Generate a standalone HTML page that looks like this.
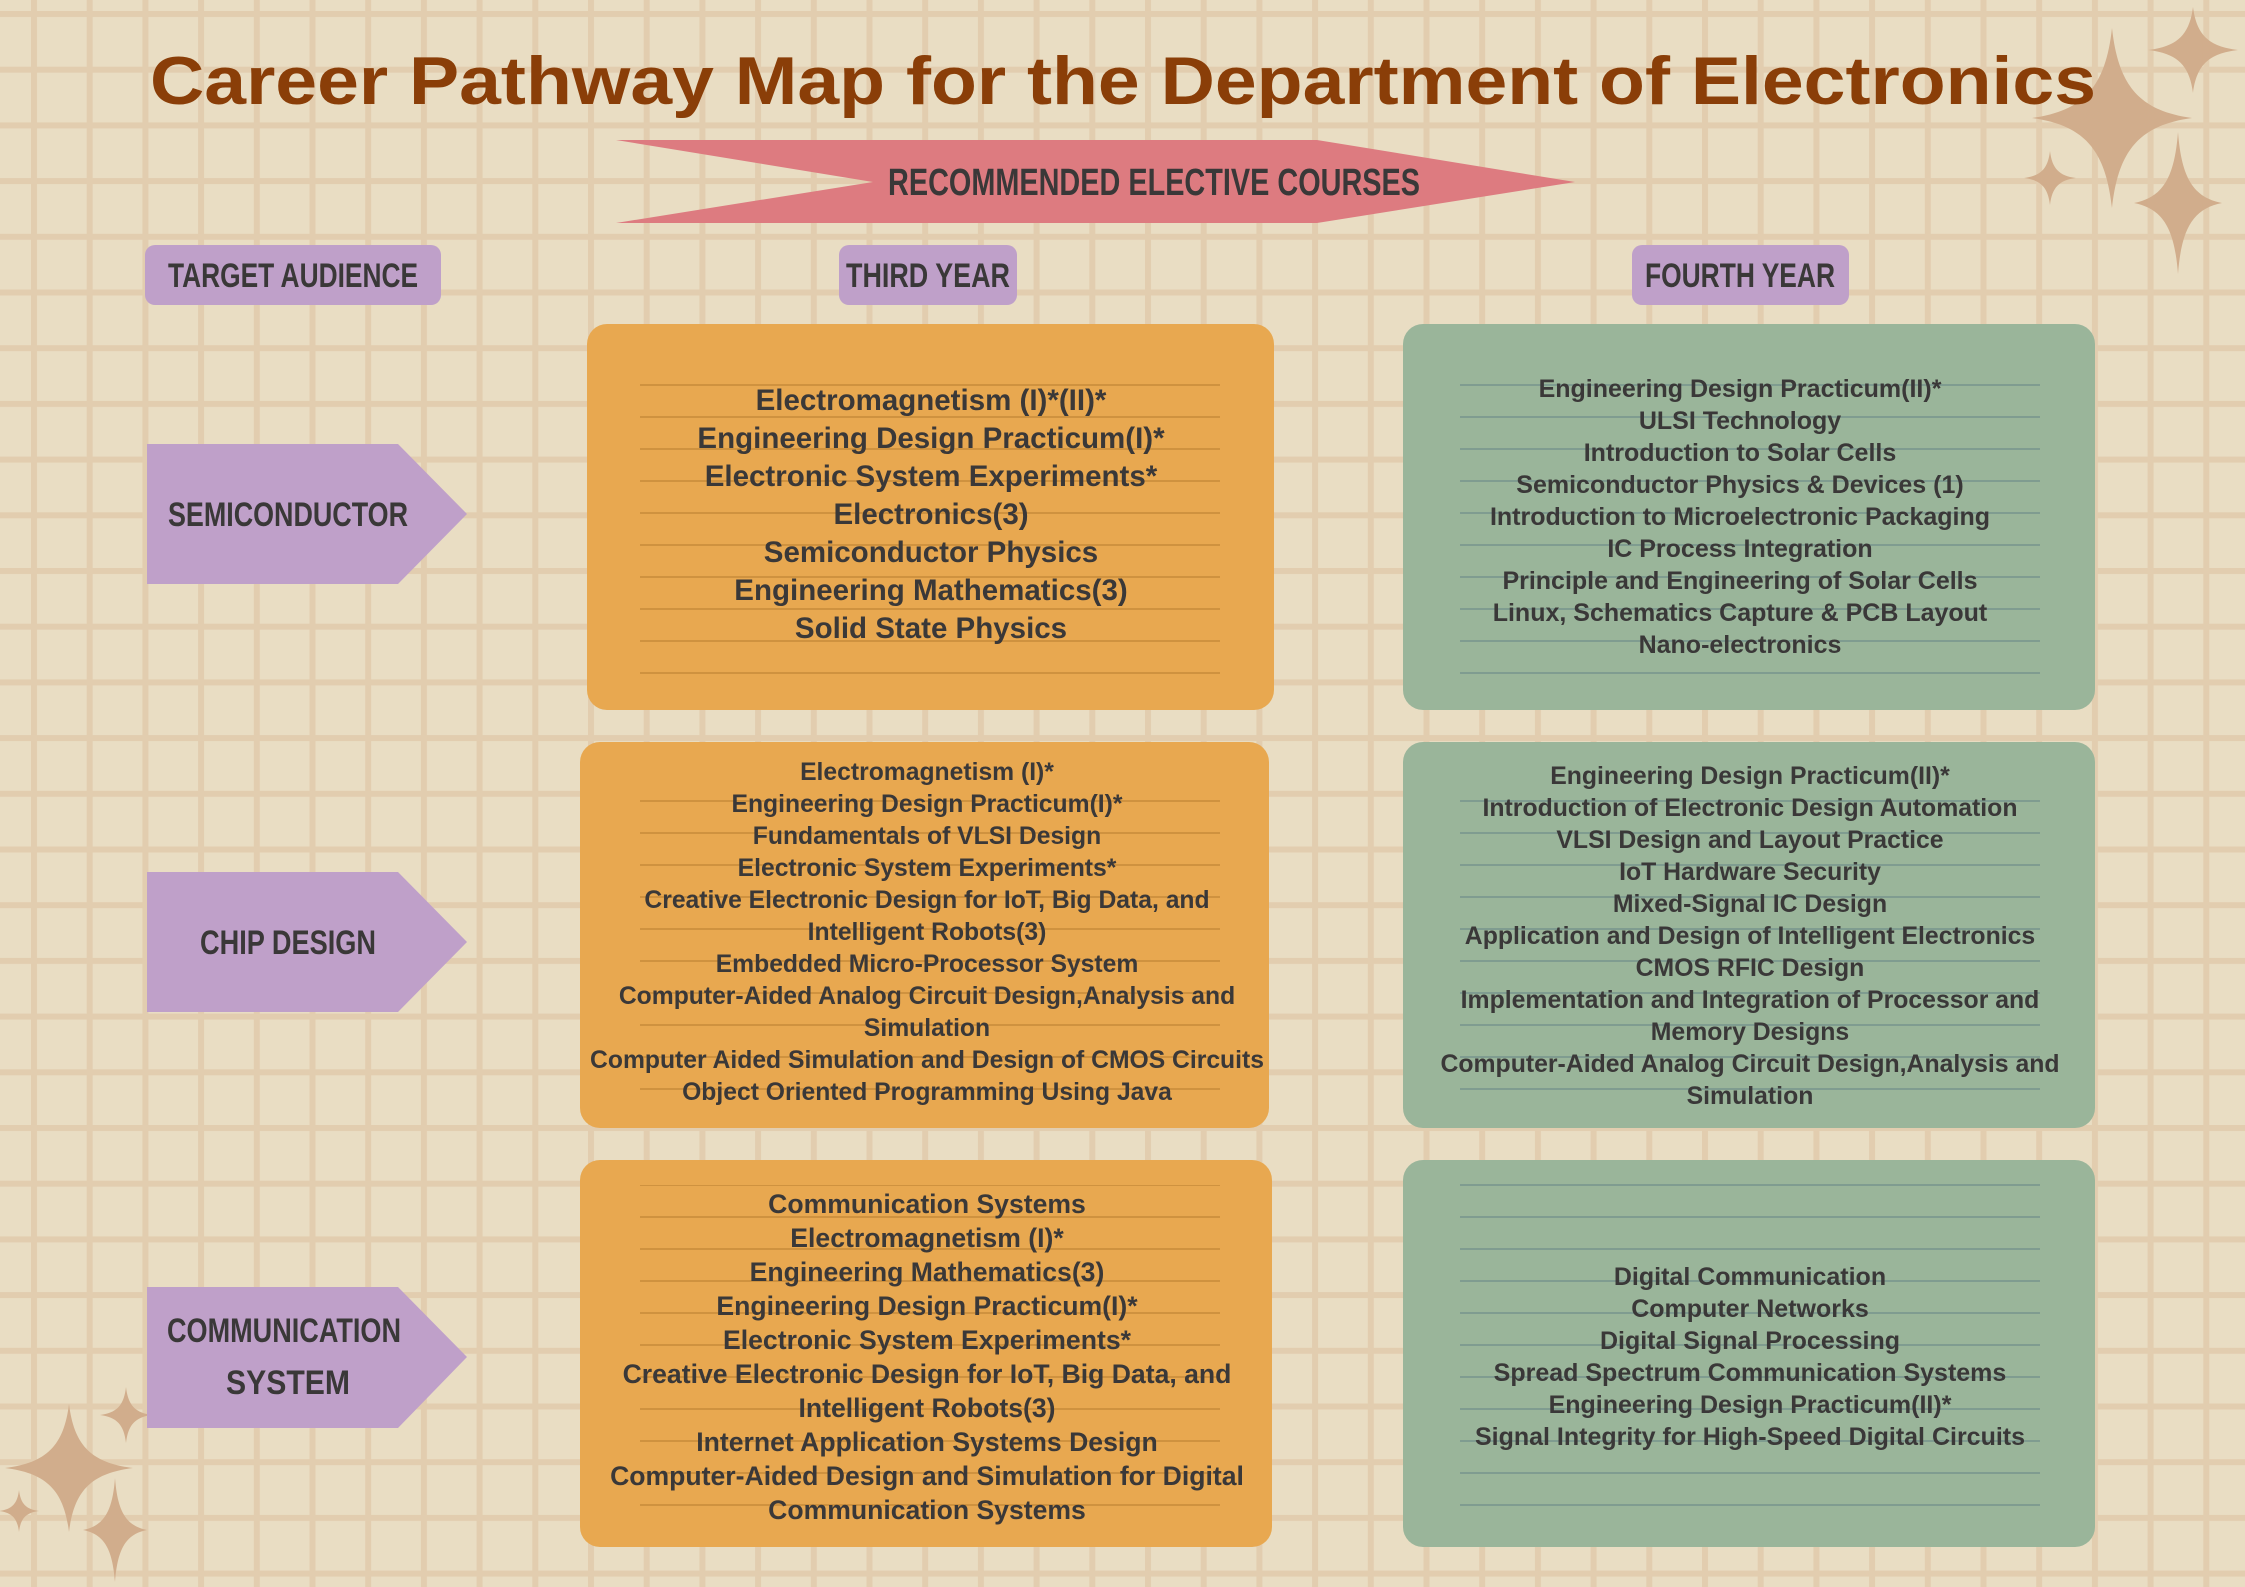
<!DOCTYPE html>
<html><head><meta charset="utf-8"><style>
html,body{margin:0;padding:0;}
body{width:2245px;height:1587px;overflow:hidden;background:#e9ddc3;}
svg{display:block}
.b{font-family:"Liberation Sans",sans-serif;font-weight:bold;fill:#3a3838;text-anchor:middle}
</style></head><body>
<svg width="2245" height="1587" viewBox="0 0 2245 1587" xmlns="http://www.w3.org/2000/svg">
<defs>
<pattern id="grid" x="31" y="11" width="55.7" height="55.7" patternUnits="userSpaceOnUse">
<rect x="0" y="0" width="6" height="55.7" fill="#e2cdaf"/>
<rect x="0" y="0" width="55.7" height="6" fill="#e2cdaf"/>
</pattern>
<pattern id="lo" x="0" y="0" width="10" height="32" patternUnits="userSpaceOnUse"><rect y="0" width="10" height="2" fill="#cf923f"/></pattern>
<pattern id="lg" x="0" y="0" width="10" height="32" patternUnits="userSpaceOnUse"><rect y="0" width="10" height="2" fill="#7f9c90"/></pattern>
<path id="star" d="M0,-1 C0.08,-0.35 0.35,-0.08 1,0 C0.35,0.08 0.08,0.35 0,1 C-0.08,0.35 -0.35,0.08 -1,0 C-0.35,-0.08 -0.08,-0.35 0,-1Z"/>
</defs>
<rect width="2245" height="1587" fill="url(#grid)"/>

<g fill="#d1ad8c">
<use href="#star" transform="translate(2112,118) scale(80,90)"/>
<use href="#star" transform="translate(2193,50) scale(45,43)"/>
<use href="#star" transform="translate(2050,178) scale(26,27)"/>
<use href="#star" transform="translate(2178,203) scale(44,71)"/>
<use href="#star" transform="translate(69,1468) scale(64,64)"/>
<use href="#star" transform="translate(126,1415) scale(26,28)"/>
<use href="#star" transform="translate(115,1530) scale(32,52)"/>
<use href="#star" transform="translate(19,1511) scale(20,21)"/>
</g>

<text x="150" y="104" textLength="1946" lengthAdjust="spacingAndGlyphs" font-family="Liberation Sans, sans-serif" font-weight="bold" font-size="68" fill="#8a3e08">Career Pathway Map for the Department of Electronics</text>

<polygon points="616,140 1317,140 1575,182 1317,223 616,223 873,182" fill="#dd7b80"/>
<text x="1154" y="195" textLength="532" lengthAdjust="spacingAndGlyphs" class="b" font-size="38">RECOMMENDED ELECTIVE COURSES</text>

<g fill="#bfa0c9">
<rect x="145" y="245" width="296" height="60" rx="10"/>
<rect x="839" y="245" width="178" height="60" rx="10"/>
<rect x="1632" y="245" width="217" height="60" rx="10"/>
</g>
<text x="293" y="287" textLength="250" lengthAdjust="spacingAndGlyphs" class="b" font-size="34">TARGET AUDIENCE</text>
<text x="928" y="287" textLength="164" lengthAdjust="spacingAndGlyphs" class="b" font-size="34">THIRD YEAR</text>
<text x="1740" y="287" textLength="190" lengthAdjust="spacingAndGlyphs" class="b" font-size="34">FOURTH YEAR</text>

<g fill="#bfa0c9">
<polygon points="147,444 398,444 467,514 398,584 147,584"/>
<polygon points="147,872 398,872 467,942 398,1012 147,1012"/>
<polygon points="147,1287 398,1287 467,1357 398,1428 147,1428"/>
</g>
<text x="288" y="526" textLength="240" lengthAdjust="spacingAndGlyphs" class="b" font-size="34">SEMICONDUCTOR</text>
<text x="288" y="954" textLength="176" lengthAdjust="spacingAndGlyphs" class="b" font-size="34">CHIP DESIGN</text>
<text x="284" y="1342" textLength="234" lengthAdjust="spacingAndGlyphs" class="b" font-size="34">COMMUNICATION</text>
<text x="288" y="1394" textLength="124" lengthAdjust="spacingAndGlyphs" class="b" font-size="34">SYSTEM</text>

<g fill="#e8a850">
<rect x="587" y="324" width="687" height="386" rx="20"/>
<rect x="580" y="742" width="689" height="386" rx="20"/>
<rect x="580" y="1160" width="692" height="387" rx="20"/>
</g>
<g fill="#9ab59a">
<rect x="1403" y="324" width="692" height="386" rx="20"/>
<rect x="1403" y="742" width="692" height="386" rx="20"/>
<rect x="1403" y="1160" width="692" height="387" rx="20"/>
</g>
<rect x="640" y="377" width="580" height="300" fill="url(#lo)"/>
<rect x="640" y="787" width="580" height="320" fill="url(#lo)"/>
<rect x="640" y="1185" width="580" height="340" fill="url(#lo)"/>
<rect x="1460" y="375" width="580" height="300" fill="url(#lg)"/>
<rect x="1460" y="790" width="580" height="320" fill="url(#lg)"/>
<rect x="1460" y="1183" width="580" height="340" fill="url(#lg)"/>

<g class="b" font-size="29.5">
<text x="931" y="410">Electromagnetism (I)*(II)*</text>
<text x="931" y="448">Engineering Design Practicum(I)*</text>
<text x="931" y="486">Electronic System Experiments*</text>
<text x="931" y="524">Electronics(3)</text>
<text x="931" y="562">Semiconductor Physics</text>
<text x="931" y="600">Engineering Mathematics(3)</text>
<text x="931" y="638">Solid State Physics</text>
</g>
<g class="b" font-size="24.7">
<text x="927" y="780">Electromagnetism (I)*</text>
<text x="927" y="812">Engineering Design Practicum(I)*</text>
<text x="927" y="844">Fundamentals of VLSI Design</text>
<text x="927" y="876">Electronic System Experiments*</text>
<text x="927" y="908">Creative Electronic Design for IoT, Big Data, and</text>
<text x="927" y="940">Intelligent Robots(3)</text>
<text x="927" y="972">Embedded Micro-Processor System</text>
<text x="927" y="1004">Computer-Aided Analog Circuit Design,Analysis and</text>
<text x="927" y="1036">Simulation</text>
<text x="927" y="1068">Computer Aided Simulation and Design of CMOS Circuits</text>
<text x="927" y="1100">Object Oriented Programming Using Java</text>
</g>
<g class="b" font-size="26.6">
<text x="927" y="1213">Communication Systems</text>
<text x="927" y="1247">Electromagnetism (I)*</text>
<text x="927" y="1281">Engineering Mathematics(3)</text>
<text x="927" y="1315">Engineering Design Practicum(I)*</text>
<text x="927" y="1349">Electronic System Experiments*</text>
<text x="927" y="1383">Creative Electronic Design for IoT, Big Data, and</text>
<text x="927" y="1417">Intelligent Robots(3)</text>
<text x="927" y="1451">Internet Application Systems Design</text>
<text x="927" y="1485">Computer-Aided Design and Simulation for Digital</text>
<text x="927" y="1519">Communication Systems</text>
</g>
<g class="b" font-size="25">
<text x="1740" y="397">Engineering Design Practicum(II)*</text>
<text x="1740" y="429">ULSI Technology</text>
<text x="1740" y="461">Introduction to Solar Cells</text>
<text x="1740" y="493">Semiconductor Physics &amp; Devices (1)</text>
<text x="1740" y="525">Introduction to Microelectronic Packaging</text>
<text x="1740" y="557">IC Process Integration</text>
<text x="1740" y="589">Principle and Engineering of Solar Cells</text>
<text x="1740" y="621">Linux, Schematics Capture &amp; PCB Layout</text>
<text x="1740" y="653">Nano-electronics</text>
</g>
<g class="b" font-size="24.8">
<text x="1750" y="784">Engineering Design Practicum(II)*</text>
<text x="1750" y="816">Introduction of Electronic Design Automation</text>
<text x="1750" y="848">VLSI Design and Layout Practice</text>
<text x="1750" y="880">IoT Hardware Security</text>
<text x="1750" y="912">Mixed-Signal IC Design</text>
<text x="1750" y="944">Application and Design of Intelligent Electronics</text>
<text x="1750" y="976">CMOS RFIC Design</text>
<text x="1750" y="1008">Implementation and Integration of Processor and</text>
<text x="1750" y="1040">Memory Designs</text>
<text x="1750" y="1072">Computer-Aided Analog Circuit Design,Analysis and</text>
<text x="1750" y="1104">Simulation</text>
</g>
<g class="b" font-size="25">
<text x="1750" y="1285">Digital Communication</text>
<text x="1750" y="1317">Computer Networks</text>
<text x="1750" y="1349">Digital Signal Processing</text>
<text x="1750" y="1381">Spread Spectrum Communication Systems</text>
<text x="1750" y="1413">Engineering Design Practicum(II)*</text>
<text x="1750" y="1445">Signal Integrity for High-Speed Digital Circuits</text>
</g>
</svg>
</body></html>
